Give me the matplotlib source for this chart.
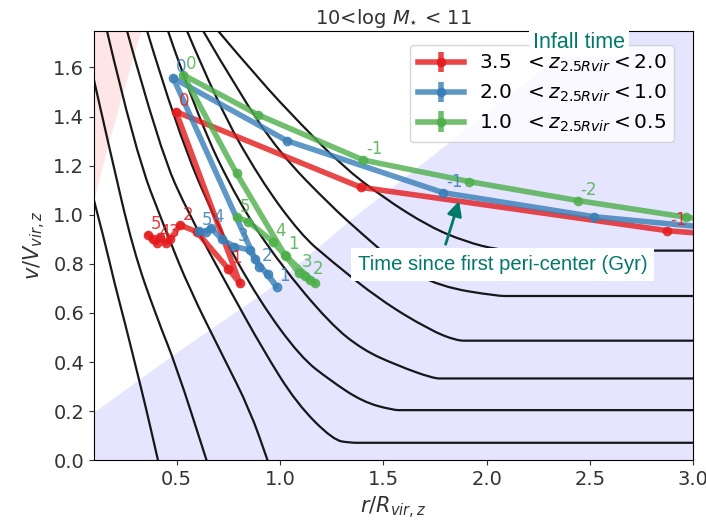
import numpy as np
import matplotlib
matplotlib.use("Agg")
import matplotlib.pyplot as plt
from matplotlib.path import Path
from matplotlib.patches import PathPatch

# trajectories: time since first pericenter (Gyr), r/Rvir, v/Vvir
red_t = [-1.5, -1.0, -0.5, 0.0, 0.5, 1.0, 1.5, 2.0, 2.5, 3.0, 3.5, 4.0, 4.5, 5.0]
red_r = [3.40, 2.875, 1.391, 0.497, 0.807, 0.750, 0.597, 0.516, 0.470, 0.448, 0.420, 0.405, 0.385, 0.363]
red_v = [0.900, 0.935, 1.112, 1.420, 0.720, 0.780, 0.931, 0.958, 0.900, 0.885, 0.910, 0.885, 0.900, 0.918]

blue_t = [-2.0, -1.5, -1.0, -0.5, 0.0, 0.5, 1.0, 1.5, 2.0, 2.5, 3.0, 3.5, 4.0, 4.5, 5.0]
blue_r = [3.30, 2.52, 1.79, 1.033, 0.484, 0.880, 0.984, 0.940, 0.900, 0.855, 0.780, 0.720, 0.666, 0.640, 0.608]
blue_v = [0.930, 0.992, 1.090, 1.302, 1.557, 0.820, 0.707, 0.760, 0.788, 0.856, 0.870, 0.900, 0.946, 0.930, 0.934]

green_t = [-3.0, -2.5, -2.0, -1.5, -1.0, -0.5, 0.0, 0.5, 1.0, 1.5, 2.0, 2.5, 3.0, 3.5, 4.0, 4.5, 5.0]
green_r = [3.40, 2.965, 2.44, 1.917, 1.403, 0.895, 0.532, 0.790, 1.024, 1.170, 1.145, 1.120, 1.092, 1.030, 0.966, 0.847, 0.790]
green_v = [0.950, 0.990, 1.058, 1.135, 1.223, 1.407, 1.570, 1.169, 0.836, 0.720, 0.734, 0.750, 0.763, 0.830, 0.890, 0.972, 0.990]

labels = [r'3.5  $< z_{2.5Rvir} <$2.0', r'2.0  $< z_{2.5Rvir} <$1.0', r'1.0  $< z_{2.5Rvir} <$0.5']
colors = ['#e41a1c', '#377eb8', '#4daf4a']

# black reference curves (r, v)
curves = [
    ([0.10, 0.15, 0.20, 0.25, 0.30, 0.35, 0.41], [1.06, 0.90, 0.72, 0.56, 0.39, 0.22, 0.0]),
    ([0.10, 0.177, 0.29, 0.403, 0.50, 0.645], [1.55, 1.264, 0.856, 0.584, 0.38, 0.0]),
    ([0.163, 0.298, 0.452, 0.565, 0.726, 0.855, 0.94], [1.75, 1.264, 0.925, 0.693, 0.421, 0.204, 0.0]),
    ([0.26, 0.419, 0.565, 0.758, 0.919, 1.081, 1.258, 1.34, 1.40, 3.0], [1.75, 1.264, 0.992, 0.693, 0.449, 0.231, 0.082, 0.071, 0.071, 0.071]),
    ([0.357, 0.5, 0.7, 0.9, 1.1, 1.242, 1.40, 1.547, 1.60, 3.0], [1.75, 1.35, 0.95, 0.65, 0.42, 0.326, 0.238, 0.204, 0.204, 0.204]),
    ([0.458, 0.6, 0.8, 1.0, 1.242, 1.40, 1.565, 1.742, 1.80, 3.0], [1.75, 1.4, 1.05, 0.8, 0.557, 0.45, 0.387, 0.333, 0.333, 0.333]),
    ([0.55, 0.7, 0.9, 1.1, 1.242, 1.484, 1.726, 1.855, 1.92, 3.0], [1.75, 1.45, 1.15, 0.92, 0.816, 0.653, 0.53, 0.487, 0.487, 0.487]),
    ([0.628, 0.8, 1.0, 1.242, 1.40, 1.565, 1.775, 2.05, 2.12, 3.0], [1.75, 1.5, 1.25, 1.04, 0.92, 0.80, 0.707, 0.669, 0.669, 0.669]),
    ([0.70, 0.90, 1.10, 1.30, 1.50, 1.726, 1.90, 2.05, 2.15, 3.0], [1.75, 1.55, 1.37, 1.20, 1.07, 0.95, 0.89, 0.858, 0.854, 0.854]),
]

# shaded regions
pink_r = [0.10, 0.16, 0.24, 0.32, 0.33]
pink_v = [1.06, 1.26, 1.50, 1.73, 1.75]
lav_r = [0.10, 0.113, 0.468, 0.936, 1.339, 2.017, 2.50, 3.0]
lav_v = [0.20, 0.204, 0.421, 0.693, 0.979, 1.427, 1.75, 1.75]


def smooth_curve(r, v):
    # quadratic bezier through the read points, drawn as a path
    pts = np.column_stack([r, v])
    verts = [pts[0]]
    codes = [Path.MOVETO]
    for i in range(1, len(pts) - 1):
        verts += [pts[i], (pts[i] + pts[i + 1]) / 2]
        codes += [Path.CURVE3, Path.CURVE3]
    verts.append(pts[-1])
    codes.append(Path.LINETO)
    return Path(verts, codes)


fig = plt.figure(figsize=(7.06, 5.2), dpi=100)
ax = fig.add_axes([0.133, 0.115, 0.849, 0.826])

ax.fill_between(lav_r, 0, lav_v, color='blue', alpha=0.1, lw=0)
ax.fill_between(pink_r, pink_v, 1.75, color='red', alpha=0.1, lw=0)

for cr, cv in curves:
    ax.add_patch(PathPatch(smooth_curve(cr, cv), facecolor='none', edgecolor='black',
                           lw=1.6, alpha=0.9))

for t, r, v, c, lab in zip([red_t, blue_t, green_t], [red_r, blue_r, green_r],
                           [red_v, blue_v, green_v], colors, labels):
    ax.errorbar(r, v, yerr=np.zeros(len(r)), color=c, lw=4, alpha=0.8,
                marker='o', ms=6, label=lab)
    for ti, ri, vi in zip(t, r, v):
        if ti == int(ti) and ri < 3.0:
            ax.annotate('%d' % ti, (ri, vi), xytext=(2, 4), textcoords='offset points',
                        color=c, fontsize=12, alpha=0.85)

ax.set_xlim(0.1, 3.0)
ax.set_ylim(0, 1.75)
ax.set_xticks([0.5, 1.0, 1.5, 2.0, 2.5, 3.0])
ax.set_yticks(np.arange(0, 1.61, 0.2))
ax.tick_params(labelsize=14, colors='#333333')
ax.set_xlabel(r'$r/R_{vir,z}$', fontsize=15, color='#333333')
ax.set_ylabel(r'$v/V_{vir,z}$', fontsize=15, color='#333333')
ax.set_title(r'10<log $M_{\star}$ < 11', fontsize=14, color='#333333', pad=5)

ax.legend(loc='upper right', fontsize=14.5, framealpha=0.8, borderpad=0.4,
          handlelength=2.3, handletextpad=0.7, labelspacing=0.42,
          bbox_to_anchor=(0.985, 0.99))

teal = '#00796b'
fig.text(0.82, 0.918, 'Infall time', fontsize=15.5, color=teal, family='Liberation Sans',
         ha='center', va='center', bbox=dict(facecolor='white', edgecolor='none', pad=3))
fig.text(0.712, 0.492, 'Time since first peri-center (Gyr)', fontsize=14.6, color=teal,
         family='Liberation Sans', ha='center', va='center',
         bbox=dict(facecolor='white', edgecolor='none', pad=5))
ax.annotate('', xy=(1.871, 1.067), xytext=(0.630, 0.525), textcoords='figure fraction',
            arrowprops=dict(arrowstyle='-|>', color=teal, lw=2, mutation_scale=22))

fig.savefig('out.png', dpi=100)
